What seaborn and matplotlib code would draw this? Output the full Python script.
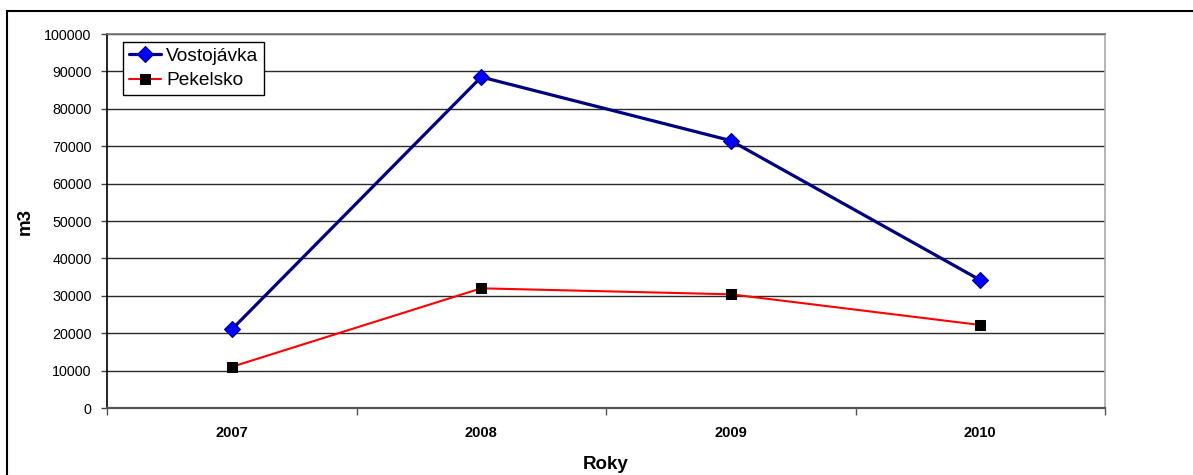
import matplotlib
matplotlib.use("Agg")
import matplotlib.pyplot as plt
import matplotlib.patches as mpatches
from matplotlib.ticker import FixedLocator, MultipleLocator
import numpy as np
import pandas as pd
import seaborn as sns

# Annual volumes (m3) for two sites
years = ["2007", "2008", "2009", "2010"]
vostojavka = [21000, 88500, 71500, 34200]
pekelsko = [11000, 32000, 30400, 22200]

sns.set_theme(style="white")
plt.rcParams["font.family"] = ["Liberation Sans", "DejaVu Sans"]
plt.rcParams["text.color"] = "black"

W, H = 1193, 475
fig = plt.figure(figsize=(W / 100, H / 100), dpi=100)
ax = fig.add_axes([107 / W, 1 - 408 / H, (1105 - 107) / W, (408 - 34) / H])

pos = np.arange(len(years))
df = pd.DataFrame({
    "pos": np.concatenate([pos, pos]),
    "value": vostojavka + pekelsko,
    "series": ["Vostojávka"] * len(years) + ["Pekelsko"] * len(years),
})

sns.lineplot(data=df[df.series == "Vostojávka"], x="pos", y="value", ax=ax,
             color="#000080", linewidth=2.3, marker="D", markersize=8,
             markerfacecolor="#0000FF", markeredgecolor="#000080",
             markeredgewidth=0.8, label="Vostojávka", zorder=4)
sns.lineplot(data=df[df.series == "Pekelsko"], x="pos", y="value", ax=ax,
             color="#FF0000", linewidth=1.5, marker="s", markersize=7.5,
             markerfacecolor="black", markeredgecolor="black",
             label="Pekelsko", zorder=4)

ax.set_xlim(-0.5, len(years) - 0.5)
ax.set_ylim(0, 100000)

# y axis
ax.yaxis.set_major_locator(MultipleLocator(10000))
ax.yaxis.set_major_formatter(matplotlib.ticker.FuncFormatter(lambda v, p: f"{int(v)}"))
ax.grid(axis="y", color="#2a2a2a", linewidth=1.0)
ax.grid(axis="x", visible=False)
ax.tick_params(axis="y", which="major", left=True, direction="out", length=4,
               width=1, color="#444444", pad=7, labelsize=10.3, labelcolor="black")

# x axis: labels at category centres, ticks at category boundaries
ax.set_xticks(pos)
ax.set_xticklabels(years, fontweight="bold")
ax.xaxis.set_minor_locator(FixedLocator(np.arange(-0.5, len(years), 1.0)))
ax.tick_params(axis="x", which="major", length=0, pad=13, labelsize=10.5, labelcolor="black")
ax.tick_params(axis="x", which="minor", bottom=True, direction="out", length=5,
               width=1, color="#555555")

ax.set_xlabel("Roky", fontsize=13.5, fontweight="bold", color="black")
ax.set_ylabel("m3", fontsize=13.5, fontweight="bold", color="black")
ax.xaxis.set_label_coords(0.5, (408 - 456) / 374)
ax.yaxis.set_label_coords((34 - 107) / 998, 0.5)

for s in ax.spines.values():
    s.set_visible(True)
ax.spines["left"].set_color("black")
ax.spines["left"].set_linewidth(1.2)
ax.spines["bottom"].set_color("#555555")
ax.spines["bottom"].set_linewidth(1.6)
ax.spines["right"].set_color("#aaaaaa")
ax.spines["right"].set_linewidth(1.2)
ax.spines["top"].set_color("#777777")
ax.spines["top"].set_linewidth(1.2)

leg = ax.legend(loc="upper left", bbox_to_anchor=(123 / W, 1 - 42 / H),
                bbox_transform=fig.transFigure, borderaxespad=0, frameon=True,
                fancybox=False, edgecolor="black", fontsize=13.8,
                handlelength=1.7, handletextpad=0.25, borderpad=0.3,
                labelspacing=0.35)
leg.get_frame().set_linewidth(1.0)
leg.get_frame().set_alpha(1)
for t in leg.get_texts():
    t.set_color("black")

# outer frame around the chart
frame = mpatches.Rectangle((7 / W, -0.1), 1.2, 1.1 - 11 / H,
                           transform=fig.transFigure, fill=False,
                           edgecolor="black", linewidth=1.5, zorder=10)
fig.patches.append(frame)

fig.savefig("out.png", dpi=100)
